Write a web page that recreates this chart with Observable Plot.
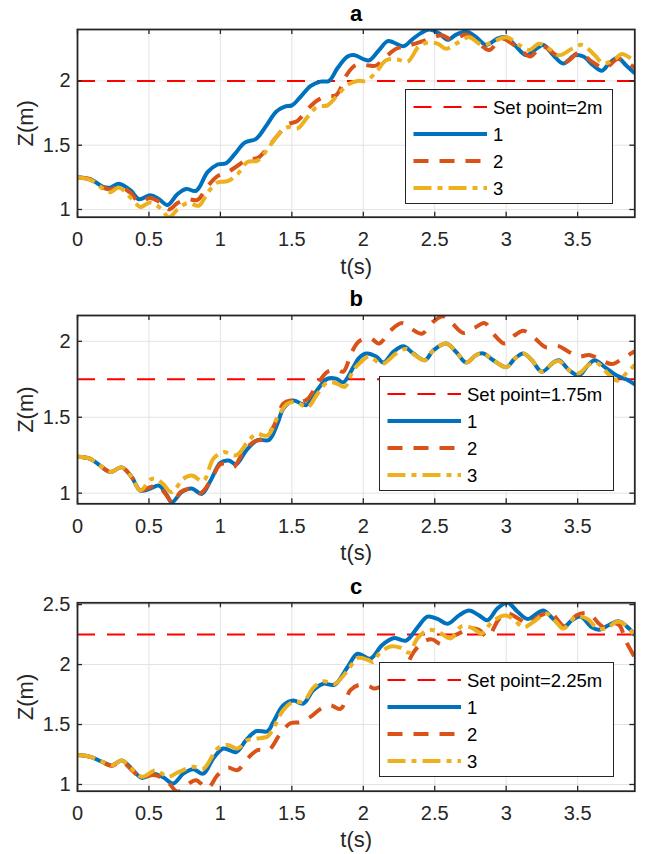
<!DOCTYPE html>
<html><head><meta charset="utf-8">
<script src="https://cdn.jsdelivr.net/npm/d3@7"></script>
<script src="https://cdn.jsdelivr.net/npm/@observablehq/plot@0.6"></script>
<style>
body{margin:0;background:#fff;}
#chart{position:relative;width:652px;height:854px;font-family:"Liberation Sans",Arial,Helvetica,sans-serif;color:#262626;}
.panel{position:absolute;left:0;width:652px;}
.legend{position:absolute;background:#fff;border:1.3px solid #262626;box-sizing:border-box;}
.legend svg{display:block;overflow:visible;}
</style></head><body><div id="chart"></div>
<script>
// ---------- data ----------
const xTicks = [0, 0.5, 1, 1.5, 2, 2.5, 3, 3.5];
const seriesNames = ["1", "2", "3"];
const seriesColors = ["#0072BD", "#D95319", "#EDB120"];
const seriesDashes = [null, "15 11", "18 6 5 6"];
const setColor = "#FF0000";
const setDash = "18 12";

// panel a (set point 2 m)
const aSet = 2;
const aYTicks = [1, 1.5, 2];
const aYDomain = [0.94, 2.40];
const a1 = [[0,1.25],[0.1,1.23],[0.18,1.175],[0.23,1.17],[0.29,1.2],[0.37,1.15],[0.43,1.08],[0.51,1.11],[0.57,1.08],[0.63,1.035],[0.7,1.12],[0.76,1.16],[0.83,1.145],[0.91,1.29],[0.98,1.35],[1.04,1.36],[1.1,1.43],[1.17,1.52],[1.25,1.55],[1.32,1.65],[1.39,1.76],[1.45,1.8],[1.5,1.81],[1.56,1.875],[1.63,1.96],[1.7,1.995],[1.76,2.0],[1.82,2.1],[1.89,2.19],[1.94,2.2],[2.0,2.17],[2.04,2.16],[2.11,2.24],[2.17,2.31],[2.21,2.3],[2.28,2.27],[2.34,2.32],[2.4,2.37],[2.46,2.4],[2.53,2.37],[2.59,2.32],[2.65,2.36],[2.72,2.385],[2.79,2.34],[2.86,2.28],[2.94,2.33],[3.0,2.34],[3.06,2.28],[3.14,2.2],[3.21,2.25],[3.26,2.28],[3.33,2.2],[3.4,2.135],[3.48,2.2],[3.54,2.19],[3.61,2.12],[3.67,2.08],[3.72,2.135],[3.78,2.18],[3.84,2.12],[3.9,2.06]];
const a2 = [[0,1.25],[0.1,1.23],[0.18,1.17],[0.23,1.155],[0.29,1.18],[0.37,1.13],[0.43,1.06],[0.51,1.09],[0.57,1.06],[0.64,1.0],[0.7,1.05],[0.77,1.08],[0.84,1.075],[0.91,1.18],[0.98,1.26],[1.05,1.29],[1.12,1.34],[1.19,1.39],[1.26,1.4],[1.33,1.48],[1.4,1.575],[1.47,1.66],[1.54,1.69],[1.61,1.78],[1.68,1.85],[1.75,1.88],[1.81,1.89],[1.88,2.04],[1.93,2.11],[1.97,2.13],[2.04,2.12],[2.09,2.12],[2.16,2.19],[2.23,2.25],[2.3,2.27],[2.39,2.3],[2.47,2.33],[2.55,2.355],[2.62,2.32],[2.72,2.36],[2.81,2.29],[2.88,2.24],[2.97,2.33],[3.04,2.29],[3.11,2.23],[3.17,2.19],[3.25,2.27],[3.35,2.2],[3.42,2.15],[3.51,2.22],[3.6,2.15],[3.69,2.1],[3.78,2.17],[3.85,2.14],[3.9,2.1]];
const a3 = [[0,1.25],[0.1,1.225],[0.18,1.16],[0.23,1.135],[0.29,1.17],[0.39,1.07],[0.44,1.02],[0.51,1.055],[0.58,1.01],[0.64,0.94],[0.7,1.0],[0.77,1.05],[0.85,1.03],[0.91,1.13],[0.98,1.21],[1.05,1.22],[1.12,1.275],[1.19,1.37],[1.26,1.38],[1.33,1.47],[1.4,1.575],[1.47,1.64],[1.54,1.63],[1.61,1.72],[1.68,1.8],[1.75,1.81],[1.82,1.89],[1.89,1.97],[1.96,2.0],[2.02,2.0],[2.09,2.07],[2.16,2.16],[2.23,2.17],[2.31,2.15],[2.39,2.27],[2.46,2.3],[2.52,2.29],[2.58,2.25],[2.65,2.29],[2.74,2.34],[2.83,2.28],[2.9,2.3],[3.0,2.34],[3.09,2.28],[3.16,2.24],[3.23,2.29],[3.3,2.25],[3.37,2.2],[3.46,2.25],[3.53,2.28],[3.62,2.2],[3.68,2.135],[3.76,2.17],[3.81,2.21],[3.9,2.15]];

// panel b (set point 1.75 m)
const bSet = 1.75;
const bYTicks = [1, 1.5, 2];
const bYDomain = [0.93, 2.17];
const b1 = [[0,1.24],[0.09,1.226],[0.16,1.18],[0.23,1.14],[0.31,1.17],[0.38,1.105],[0.44,1.017],[0.51,1.03],[0.57,1.05],[0.62,0.995],[0.66,0.94],[0.73,1.007],[0.8,1.03],[0.87,0.995],[0.93,1.08],[1.0,1.2],[1.06,1.215],[1.11,1.19],[1.18,1.28],[1.26,1.35],[1.34,1.35],[1.4,1.46],[1.44,1.556],[1.51,1.61],[1.6,1.58],[1.67,1.67],[1.75,1.754],[1.81,1.754],[1.86,1.73],[1.93,1.83],[1.97,1.89],[2.02,1.92],[2.09,1.9],[2.14,1.86],[2.21,1.93],[2.28,1.967],[2.35,1.92],[2.43,1.875],[2.49,1.94],[2.58,1.985],[2.65,1.93],[2.72,1.86],[2.79,1.91],[2.84,1.92],[2.91,1.875],[3.0,1.83],[3.06,1.886],[3.12,1.92],[3.18,1.875],[3.25,1.8],[3.33,1.86],[3.37,1.875],[3.44,1.81],[3.51,1.776],[3.57,1.84],[3.62,1.875],[3.69,1.83],[3.77,1.776],[3.84,1.75],[3.9,1.716]];
const b2 = [[0,1.24],[0.09,1.226],[0.16,1.18],[0.23,1.14],[0.31,1.17],[0.38,1.105],[0.44,1.02],[0.51,1.04],[0.56,1.05],[0.62,0.99],[0.67,0.93],[0.72,1.007],[0.79,1.03],[0.86,1.0],[0.93,1.08],[1.0,1.19],[1.05,1.19],[1.09,1.17],[1.16,1.27],[1.23,1.336],[1.3,1.36],[1.37,1.435],[1.44,1.59],[1.49,1.61],[1.56,1.6],[1.61,1.62],[1.68,1.72],[1.75,1.8],[1.82,1.81],[1.86,1.8],[1.92,1.93],[1.97,2.0],[2.05,2.02],[2.11,1.985],[2.19,2.07],[2.27,2.12],[2.34,2.08],[2.41,2.05],[2.49,2.13],[2.56,2.165],[2.62,2.12],[2.7,2.055],[2.78,2.09],[2.85,2.12],[2.91,2.05],[2.99,1.985],[3.06,2.04],[3.12,2.07],[3.2,2.02],[3.28,1.96],[3.36,1.97],[3.44,1.93],[3.51,1.9],[3.58,1.91],[3.66,1.88],[3.74,1.85],[3.82,1.89],[3.9,1.935]];
const b3 = [[0,1.24],[0.09,1.226],[0.16,1.18],[0.23,1.14],[0.31,1.17],[0.38,1.105],[0.44,1.017],[0.51,1.09],[0.55,1.095],[0.6,1.06],[0.66,1.006],[0.74,1.095],[0.8,1.116],[0.88,1.08],[0.95,1.226],[1.02,1.27],[1.11,1.25],[1.19,1.336],[1.25,1.39],[1.33,1.38],[1.4,1.5],[1.47,1.59],[1.53,1.6],[1.61,1.567],[1.68,1.655],[1.75,1.73],[1.82,1.72],[1.87,1.7],[1.93,1.81],[1.98,1.86],[2.04,1.9],[2.13,1.85],[2.23,1.92],[2.3,1.95],[2.36,1.91],[2.43,1.875],[2.49,1.94],[2.58,1.985],[2.65,1.93],[2.72,1.86],[2.79,1.91],[2.84,1.92],[2.91,1.875],[3.0,1.83],[3.06,1.886],[3.12,1.92],[3.18,1.875],[3.25,1.8],[3.33,1.86],[3.37,1.87],[3.44,1.81],[3.51,1.79],[3.57,1.84],[3.63,1.86],[3.72,1.78],[3.78,1.74],[3.85,1.8],[3.9,1.845]];

// panel c (set point 2.25 m)
const cSet = 2.25;
const cYTicks = [1, 1.5, 2, 2.5];
const cYDomain = [0.944, 2.515];
const c1 = [[0,1.245],[0.09,1.23],[0.17,1.19],[0.24,1.16],[0.31,1.2],[0.38,1.13],[0.45,1.055],[0.53,1.09],[0.6,1.06],[0.67,1.008],[0.74,1.09],[0.81,1.128],[0.88,1.09],[0.95,1.217],[1.02,1.3],[1.11,1.27],[1.18,1.37],[1.25,1.444],[1.33,1.444],[1.37,1.52],[1.44,1.66],[1.51,1.7],[1.58,1.675],[1.65,1.786],[1.72,1.84],[1.8,1.833],[1.89,1.98],[1.96,2.09],[2.05,2.05],[2.13,2.16],[2.21,2.22],[2.3,2.2],[2.38,2.31],[2.45,2.4],[2.52,2.38],[2.59,2.34],[2.67,2.41],[2.74,2.45],[2.81,2.41],[2.87,2.37],[2.94,2.47],[3.01,2.515],[3.08,2.44],[3.15,2.38],[3.22,2.43],[3.26,2.45],[3.33,2.38],[3.4,2.31],[3.46,2.37],[3.52,2.4],[3.6,2.31],[3.65,2.29],[3.72,2.33],[3.79,2.36],[3.86,2.3],[3.9,2.245]];
const c2 = [[0,1.245],[0.09,1.23],[0.17,1.19],[0.24,1.155],[0.31,1.19],[0.38,1.12],[0.45,1.055],[0.53,1.08],[0.62,1.036],[0.7,0.94],[0.77,1.0],[0.83,1.036],[0.91,0.97],[0.98,1.078],[1.05,1.14],[1.12,1.12],[1.19,1.217],[1.26,1.286],[1.34,1.29],[1.42,1.425],[1.49,1.51],[1.56,1.52],[1.63,1.564],[1.7,1.63],[1.77,1.66],[1.84,1.63],[1.91,1.786],[1.97,1.83],[2.04,1.82],[2.08,1.8],[2.2,1.88],[2.3,1.99],[2.35,2.1],[2.42,2.19],[2.48,2.21],[2.55,2.17],[2.62,2.23],[2.67,2.26],[2.74,2.3],[2.81,2.29],[2.87,2.23],[2.95,2.38],[3.01,2.425],[3.09,2.38],[3.15,2.34],[3.24,2.41],[3.31,2.43],[3.39,2.33],[3.42,2.31],[3.49,2.41],[3.58,2.425],[3.65,2.34],[3.7,2.3],[3.74,2.345],[3.79,2.33],[3.84,2.19],[3.9,2.06]];
const c3 = [[0,1.245],[0.09,1.23],[0.17,1.19],[0.24,1.16],[0.31,1.2],[0.38,1.13],[0.45,1.064],[0.55,1.12],[0.63,1.064],[0.71,1.105],[0.81,1.147],[0.88,1.13],[0.98,1.3],[1.05,1.33],[1.12,1.3],[1.19,1.37],[1.25,1.383],[1.33,1.4],[1.37,1.467],[1.44,1.62],[1.51,1.69],[1.58,1.69],[1.65,1.806],[1.72,1.86],[1.8,1.84],[1.89,1.95],[1.96,2.055],[2.03,2.04],[2.07,2.02],[2.11,2.09],[2.19,2.15],[2.26,2.14],[2.32,2.1],[2.38,2.22],[2.46,2.29],[2.53,2.27],[2.61,2.22],[2.69,2.32],[2.76,2.305],[2.83,2.26],[2.9,2.355],[2.99,2.41],[3.05,2.38],[3.12,2.31],[3.19,2.355],[3.28,2.425],[3.35,2.355],[3.4,2.3],[3.49,2.4],[3.57,2.38],[3.63,2.31],[3.7,2.3],[3.77,2.355],[3.81,2.35],[3.9,2.245]];

// ---------- drawing ----------
const W = 652, ML = 77, MR = 17.7;
const ink = "#262626";
const fmt = d => String(d);

function makePanel(cfg) {
  const innerW = W - ML - MR;
  const innerH = cfg.height - cfg.marginTop - cfg.marginBottom;
  const tickStyle = {stroke: ink, strokeWidth: 1.3};
  const marks = [
    Plot.gridX(xTicks, {stroke: "#e3e3e3", strokeOpacity: 1, strokeWidth: 1}),
    Plot.gridY(cfg.yTicks, {stroke: "#e3e3e3", strokeOpacity: 1, strokeWidth: 1}),
    Plot.ruleY([cfg.setpoint], {stroke: setColor, strokeWidth: 2, strokeDasharray: setDash, clip: true}),
    ...cfg.series.map((s, i) => Plot.line(s, {
      x: d => d[0], y: d => d[1], stroke: seriesColors[i], strokeWidth: 4,
      strokeDasharray: seriesDashes[i], strokeLinecap: "butt", strokeLinejoin: "round",
      curve: "catmull-rom", clip: true
    })),
    Plot.frame({stroke: ink, strokeWidth: 1.8}),
    Plot.tickX(xTicks, {x: d => d, insetTop: innerH - 5, ...tickStyle}),
    Plot.tickX(xTicks, {x: d => d, insetBottom: innerH - 5, ...tickStyle}),
    Plot.tickY(cfg.yTicks, {y: d => d, insetRight: innerW - 5, ...tickStyle}),
    Plot.tickY(cfg.yTicks, {y: d => d, insetLeft: innerW - 5, ...tickStyle}),
    Plot.axisX(xTicks, {tickSize: 0, tickPadding: 15, tickFormat: fmt, fontSize: 20, fill: ink, label: null}),
    Plot.axisY(cfg.yTicks, {tickSize: 0, tickPadding: 7, tickFormat: fmt, fontSize: 20, fill: ink, label: null}),
    Plot.text([cfg.title], {text: d => d, frameAnchor: "top", dy: -(cfg.marginTop - cfg.titleY), lineAnchor: "middle", textAnchor: "middle", fontWeight: "bold", fontSize: 22, fill: "#000"}),
    Plot.text(["t(s)"], {text: d => d, frameAnchor: "bottom", dy: cfg.xLabelDy, lineAnchor: "middle", textAnchor: "middle", fontSize: 22, fill: ink}),
    Plot.text(["Z(m)"], {text: d => d, frameAnchor: "left", dx: -52, rotate: -90, lineAnchor: "middle", textAnchor: "middle", fontSize: 22, fill: ink})
  ];
  const plot = Plot.plot({
    width: W, height: cfg.height,
    marginLeft: ML, marginRight: MR, marginTop: cfg.marginTop, marginBottom: cfg.marginBottom,
    x: {domain: [0, 3.9]},
    y: {domain: cfg.yDomain},
    style: {fontFamily: '"Liberation Sans", Arial, Helvetica, sans-serif', background: "transparent", overflow: "visible", color: ink},
    marks
  });
  const div = document.createElement("div");
  div.className = "panel";
  div.style.top = cfg.top + "px";
  div.style.height = cfg.height + "px";
  div.appendChild(plot);

  // legend overlay
  const items = [{label: cfg.setLabel, color: setColor, width: 2, dash: setDash}]
    .concat(seriesNames.map((n, i) => ({label: n, color: seriesColors[i], width: 4, dash: seriesDashes[i]})));
  const lg = d3.select(div).append("div").attr("class", "legend")
    .style("left", cfg.legend.left + "px").style("top", cfg.legend.top + "px")
    .style("width", cfg.legend.width + "px").style("height", "115px");
  const svg = lg.append("svg").attr("width", cfg.legend.width - 2).attr("height", 113);
  items.forEach((it, i) => {
    const y = 17 + i * 27;
    svg.append("line").attr("x1", 7.5).attr("x2", 81).attr("y1", y).attr("y2", y)
      .attr("stroke", it.color).attr("stroke-width", it.width)
      .attr("stroke-dasharray", it.dash).attr("stroke-linecap", "butt");
    svg.append("text").attr("x", 87).attr("y", y).attr("dy", "0.36em")
      .attr("fill", "#000").style("font-size", "18.5px")
      .style("font-family", '"Liberation Sans", Arial, Helvetica, sans-serif').text(it.label);
  });
  return div;
}

const chart = document.getElementById("chart");
chart.appendChild(makePanel({
  title: "a", top: 0, height: 285, marginTop: 29, marginBottom: 68.3, titleY: 13, xLabelDy: 50,
  yDomain: aYDomain, yTicks: aYTicks, setpoint: aSet, setLabel: "Set point=2m",
  series: [a1, a2, a3], legend: {left: 404.7, top: 88.7, width: 208.6}
}));
chart.appendChild(makePanel({
  title: "b", top: 285, height: 285, marginTop: 30, marginBottom: 66.7, titleY: 13, xLabelDy: 49,
  yDomain: bYDomain, yTicks: bYTicks, setpoint: bSet, setLabel: "Set point=1.75m",
  series: [b1, b2, b3], legend: {left: 378.5, top: 90.7, width: 235}
}));
chart.appendChild(makePanel({
  title: "c", top: 570, height: 284, marginTop: 32.3, marginBottom: 63.3, titleY: 16, xLabelDy: 49,
  yDomain: cYDomain, yTicks: cYTicks, setpoint: cSet, setLabel: "Set point=2.25m",
  series: [c1, c2, c3], legend: {left: 378.5, top: 92.3, width: 235}
}));
</script></body></html>
